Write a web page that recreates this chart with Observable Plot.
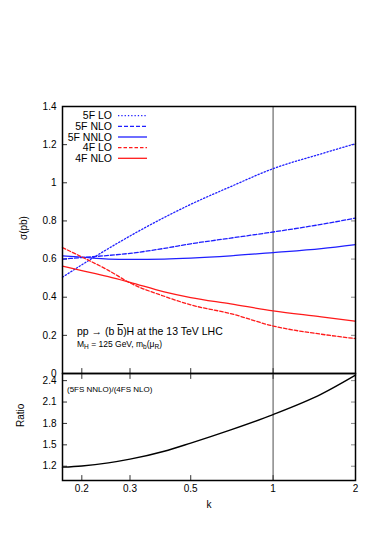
<!DOCTYPE html>
<html><head><meta charset="utf-8">
<script src="https://cdn.jsdelivr.net/npm/d3@7"></script>
<script src="https://cdn.jsdelivr.net/npm/@observablehq/plot@0.6"></script>
<style>
body{margin:0;background:#fff;}
#wrap{position:relative;width:374px;height:534px;font-family:"Liberation Sans",Arial,Helvetica,sans-serif;}
#wrap svg{display:block;}
</style></head><body><div id="wrap"></div>
<script>
// ---- data ----
const kValues    = [0.17, 0.2, 0.25, 0.3, 0.4, 0.5, 0.7, 1, 1.5, 2];
const fiveF_LO   = [0.505, 0.570, 0.655, 0.721, 0.818, 0.887, 0.980, 1.074, 1.152, 1.205];
const fiveF_NLO  = [0.600, 0.608, 0.619, 0.630, 0.656, 0.680, 0.710, 0.742, 0.782, 0.815];
const fiveF_NNLO = [0.617, 0.610, 0.600, 0.598, 0.600, 0.605, 0.617, 0.634, 0.655, 0.676];
const fourF_LO   = [0.660, 0.611, 0.541, 0.475, 0.405, 0.360, 0.314, 0.249, 0.206, 0.183];
const fourF_NLO  = [0.563, 0.540, 0.508, 0.478, 0.428, 0.398, 0.365, 0.328, 0.297, 0.274];
const ratio      = [1.187, 1.204, 1.247, 1.299, 1.410, 1.525, 1.710, 1.924, 2.210, 2.476];
const seriesNames = ["5F LO", "5F NLO", "5F NNLO", "4F LO", "4F NLO"];
const seriesValues = [fiveF_LO, fiveF_NLO, fiveF_NNLO, fourF_LO, fourF_NLO];
const xTicks = [0.2, 0.3, 0.5, 1, 2];
const yTicksTop = [0, 0.2, 0.4, 0.6, 0.8, 1, 1.2, 1.4];
const yTicksRatio = [1.2, 1.5, 1.8, 2.1, 2.4];
const markerK = [1];

// ---- styles ----
const BLUE = "#1f1fff", RED = "#ff1a1a";
const seriesStyle = {
  "5F LO":   {stroke: BLUE, dash: "1.3,2"},
  "5F NLO":  {stroke: BLUE, dash: "4,2"},
  "5F NNLO": {stroke: BLUE, dash: null},
  "4F LO":   {stroke: RED,  dash: "3.5,2"},
  "4F NLO":  {stroke: RED,  dash: null}
};
const FONT = '"Liberation Sans", Arial, Helvetica, sans-serif';

const rows = [];
seriesNames.forEach((s, i) => kValues.forEach((k, j) => rows.push({series: s, k, v: seriesValues[i][j]})));
const ratioRows = kValues.map((k, j) => ({k, v: ratio[j]}));

const xScale = {type: "log", domain: [0.17, 2], axis: null};
const common = {width: 374, marginLeft: 62, marginRight: 19,
  style: {fontFamily: FONT, fontSize: "10px", color: "#000", background: "transparent", overflow: "visible"}};

// a simple straight tick shape for vector marks
const tickShape = {draw(context, l) { context.moveTo(0, 0); context.lineTo(0, -l); }};
const xTickMarks = (edge, stroke) => Plot.vector(xTicks, {
  x: d => d, frameAnchor: edge, length: 5, rotate: edge === "bottom" ? 0 : 180,
  anchor: "start", shape: tickShape, stroke, strokeWidth: 1
});

const lineMarks = seriesNames.map(s => Plot.line(rows.filter(d => d.series === s), {
  x: "k", y: "v", stroke: seriesStyle[s].stroke, strokeDasharray: seriesStyle[s].dash,
  strokeWidth: 1.3, curve: "monotone-x"
}));

const topPlot = Plot.plot({
  ...common, height: 373, marginTop: 106, marginBottom: 0,
  x: xScale, y: {domain: [0, 1.4]},
  marks: [
    Plot.ruleX(markerK, {stroke: "#888", strokeWidth: 1.5}),
    Plot.axisY(yTicksTop, {anchor: "left", tickSize: -5, tickPadding: 11, label: null, stroke: "#333", tickFormat: d => String(d)}),
    Plot.axisY(yTicksTop, {anchor: "right", tickSize: -5, tickFormat: () => "", label: null, stroke: "#888"}),
    xTickMarks("bottom", "#333"),
    ...lineMarks,
    Plot.text(["σ(pb)"], {frameAnchor: "left", dx: -39, rotate: -90, text: d => d, fontSize: 10}),
    Plot.frame({stroke: "#000", strokeWidth: 1.5})
  ]
});

const bottomPlot = Plot.plot({
  ...common, height: 161, marginTop: 0, marginBottom: 54,
  x: xScale, y: {domain: [1, 2.5]},
  marks: [
    Plot.ruleX(markerK, {stroke: "#888", strokeWidth: 1.5}),
    Plot.axisY(yTicksRatio, {anchor: "left", tickSize: -5, tickPadding: 11, label: null, stroke: "#333", tickFormat: d => String(d)}),
    Plot.axisY(yTicksRatio, {anchor: "right", tickSize: -5, tickFormat: () => "", label: null, stroke: "#888"}),
    xTickMarks("bottom", "#333"),
    xTickMarks("top", "#333"),
    Plot.text(xTicks, {x: d => d, frameAnchor: "bottom", dy: 11, text: d => String(d), fontSize: 10}),
    Plot.line(ratioRows, {x: "k", y: "v", stroke: "#000", strokeWidth: 1.4, curve: "monotone-x"}),
    Plot.text(["Ratio"], {frameAnchor: "left", dx: -42, rotate: -90, text: d => d, fontSize: 10}),
    Plot.text(["k"], {frameAnchor: "bottom", dy: 27, text: d => d, fontSize: 10}),
    Plot.frame({stroke: "#000", strokeWidth: 1.5})
  ]
});

const wrap = document.getElementById("wrap");
wrap.appendChild(topPlot);
wrap.appendChild(bottomPlot);

// ---- overlay: legend and annotations ----
const ov = d3.select(wrap).append("svg")
  .attr("width", 374).attr("height", 534)
  .style("position", "absolute").style("left", "0px").style("top", "0px")
  .style("pointer-events", "none")
  .attr("font-family", FONT);

const leg = ov.append("g");
seriesNames.forEach((s, i) => {
  const y = 115.7 + i * 10.65;
  leg.append("text").attr("x", 112).attr("y", y).attr("dy", "0.35em")
    .attr("text-anchor", "end").attr("font-size", 10.5).text(s);
  leg.append("line").attr("x1", 118).attr("x2", 147).attr("y1", y).attr("y2", y)
    .attr("stroke", seriesStyle[s].stroke).attr("stroke-width", 1.3)
    .attr("stroke-dasharray", seriesStyle[s].dash);
});

const t1 = ov.append("text").attr("x", 77).attr("y", 335).attr("font-size", 10.5);
t1.append("tspan").text("pp → (b ");
t1.append("tspan").style("text-decoration", "overline").text("b");
t1.append("tspan").text(")H at the 13 TeV LHC");

const t2 = ov.append("text").attr("x", 77).attr("y", 346.5).attr("font-size", 8.5);
t2.append("tspan").text("M");
t2.append("tspan").attr("font-size", 6.5).attr("dy", 2).text("H");
t2.append("tspan").attr("dy", -2).text(" = 125 GeV, m");
t2.append("tspan").attr("font-size", 6.5).attr("dy", 2).text("b");
t2.append("tspan").attr("dy", -2).text("(μ");
t2.append("tspan").attr("font-size", 6.5).attr("dy", 2).text("R");
t2.append("tspan").attr("dy", -2).text(")");

ov.append("text").attr("x", 67).attr("y", 389.5).attr("dy", "0.35em")
  .attr("font-size", 8).text("(5FS NNLO)/(4FS NLO)");
</script>
</body></html>
